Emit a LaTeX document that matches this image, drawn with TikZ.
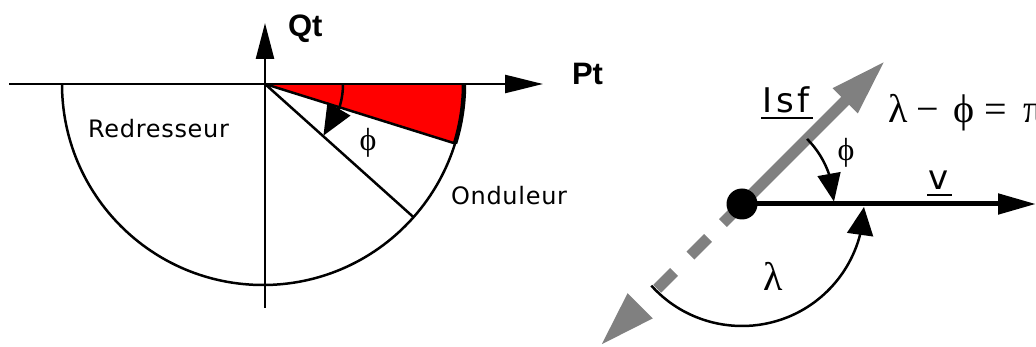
\documentclass[tikz,border=0pt]{standalone}
\usepackage{fontspec}
\setmainfont{Liberation Serif}
\newfontfamily\labfont[LetterSpace=3]{DejaVu Sans}
\newfontfamily\boldfont{Liberation Sans}
\newfontfamily\grkfont{Liberation Serif}
\usetikzlibrary{arrows.meta,bending,calc}
\definecolor{arrgray}{RGB}{128,128,128}
\tikzset{
  txt/.style={inner sep=0pt, outer sep=0pt},
  axislabel/.style={txt, font=\boldfont\bfseries\fontsize{31}{34}\selectfont},
  zonelabel/.style={txt, font=\labfont\fontsize{24}{28}\selectfont},
  veclabel/.style={txt, font=\labfont\fontsize{34}{38}\selectfont},
  grksmall/.style={txt, font=\grkfont\fontsize{32}{36}\selectfont},
  grkbig/.style={txt, font=\grkfont\fontsize{40}{44}\selectfont},
  eqsym/.style={txt, anchor=base, font=\grkfont\fontsize{40}{44}\selectfont},
  axisline/.style={line width=2.5pt, black},
  thinline/.style={line width=2.5pt, black},
  angarrow/.style={line width=2.5pt, black},
}
\begin{document}
\begin{tikzpicture}[x=1pt,y=-1pt]
\useasboundingbox (0,0) rectangle (1036,347);
% ---------- left diagram ----------
\coordinate (O) at (265,84);
\coordinate (CC) at (263,84);
\coordinate (Hl) at (9,84);
\coordinate (Hr) at (543,84);
\coordinate (Vb) at (265,308);
\coordinate (Vt) at (265,23);
\coordinate (Cl) at ($(CC)+(180:201)$);
\coordinate (Cr) at ($(CC)+(0:201)$);
\coordinate (R1) at ($(CC)+(17.2:201)$);
\coordinate (L2) at ($(CC)+(41.5:201)$);
\coordinate (A0) at ($(O)+(0:78)$);
% red sector
\fill[red] (O) -- (Cr) arc[start angle=0, end angle=17.2, radius=201] -- cycle;
% semicircle
\draw[thinline] (Cl) arc[start angle=180, end angle=0, radius=201];
\draw[line width=4.5pt] (Cr) arc[start angle=0, end angle=17.2, radius=201];
\draw[thinline] (O) -- (R1);
\draw[thinline] (O) -- (L2);
% axes
\draw[axisline, -{Triangle[length=38pt,width=18pt]}] (Hl) -- (Hr);
\draw[axisline, -{Triangle[length=36pt,width=18pt]}] (Vb) -- (Vt);
% phi arc
\draw[angarrow, -{Triangle[length=31pt,width=26pt,flex]}] (A0) arc[start angle=0, end angle=41.5, radius=78];
% labels
\node[axislabel, anchor=base west] (Pt) at (572,85) {Pt};
\node[axislabel, anchor=base west] (Qt) at (288,37) {Qt};
\node[zonelabel, anchor=base west] (Red) at (88,138) {Redresseur};
\node[zonelabel, anchor=base west] (Ond) at (451,205) {Onduleur};
\node[grksmall] (phiL) at (368,143) {ϕ};
% ---------- right diagram ----------
\coordinate (C) at (742,204);
\coordinate (Itip) at ($(C)+(-45:203)$);
\coordinate (Jtip) at ($(C)+(135:201)$);
\coordinate (Vtip) at (1036,204);
\coordinate (P0) at ($(C)+(-45:92)$);
\coordinate (K0) at ($(C)+(138:122)$);
\draw[arrgray, line width=11pt, -{Triangle[length=57pt,width=32pt]}] (C) -- (Itip);
\draw[arrgray, line width=11pt, dash pattern=on 27pt off 21pt on 25pt off 23pt on 24pt off 60pt,
      -{Triangle[length=57pt,width=32pt]}] (C) -- (Jtip);
\draw[line width=5pt, -{Triangle[length=38pt,width=20pt]}] (C) -- (Vtip);
\fill (C) circle[radius=15.5];
\draw[angarrow, -{Triangle[length=28pt,width=23pt,flex]}] (P0) arc[start angle=-45, end angle=-1.5, radius=92];
\draw[angarrow, -{Triangle[length=28pt,width=26pt,flex]}] (K0) arc[start angle=138, end angle=1.4, radius=122];
% labels
\node[veclabel, anchor=base west] (Isf) at (762,113) {I\hspace{4pt}s\hspace{4pt}f};
\draw[line width=1.5pt] (761,118) coordinate (u1) -- (813,118) coordinate (u2);
\node[veclabel, anchor=base] (v) at (939,190) {v};
\draw[line width=1.5pt] (927,195) coordinate (u3) -- (952,195) coordinate (u4);
\node[grksmall] (phiR) at (846,153) {ϕ};
\node[grkbig] (lam) at (773,276) {λ};
% equation  lambda - phi = pi
\node[eqsym] (e1) at (898,123) {λ};
\node[eqsym] (e2) at (927.5,123) {−};
\node[eqsym] (e3) at (964,123) {ϕ};
\node[eqsym] (e4) at (996,123) {=};
\node[eqsym] (e5) at (1034,123) {π};
\end{tikzpicture}
\end{document}
